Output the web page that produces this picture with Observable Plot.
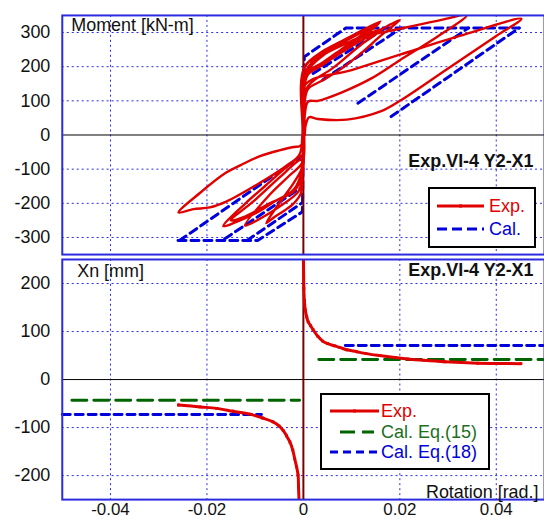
<!DOCTYPE html>
<html><head><meta charset="utf-8">
<script src="https://cdn.jsdelivr.net/npm/d3@7"></script>
<script src="https://cdn.jsdelivr.net/npm/@observablehq/plot@0.6"></script>
<style>
html,body{margin:0;padding:0;background:#fff;overflow:hidden;}
#wrap{position:relative;width:544px;height:517px;overflow:hidden;font-family:"Liberation Sans",Arial,sans-serif;}
.panel{position:absolute;left:0;}
.legend{position:absolute;}
</style></head><body><div id="wrap"></div>
<script>
// ---------- data ----------
const rotTicks = [-0.04, -0.02, 0, 0.02, 0.04];
const momTicks = [-300, -200, -100, 0, 100, 200, 300];
const xnTicks = [-200, -100, 0, 100, 200];

// Experimental moment-rotation hysteresis (rad, kN-m)
const expRot = [0,0.0002,0.0003,
 0.004,0.008,0.012,0.016, 0.012,0.008,0.004,0.001,0.0003,0.0002,-0.0002,
 -0.0004,-0.002,-0.004,-0.006,-0.0077, -0.006,-0.004,-0.002,-0.0005,-0.0002,0.0001,0.0003,
 0.004,0.008,0.012,0.0158, 0.012,0.008,0.004,0.001,0.0003,0.0002,-0.0002,
 -0.003,-0.007,-0.0121, -0.009,-0.005,-0.001,-0.0003,0.0001,0.0003,
 0.004,0.008,0.012,0.0165, 0.012,0.006,0.002,0.0005,0.0002,-0.0002,
 -0.001,-0.004,-0.008,-0.012,-0.0166, -0.014,-0.010,-0.006,-0.002,-0.0004,0.0001,0.0003,
 0.005,0.010,0.015,0.020, 0.016,0.012,0.008,0.004,0.001,0.0003,0.0002,-0.0002,
 -0.0008,-0.002,-0.005,-0.009,-0.013,-0.016,-0.0214,-0.0259, -0.0228,-0.0194,-0.016,-0.009,-0.0035,-0.0008,-0.0002,0.0003,
 0.006,0.012,0.020,0.028,0.0338, 0.028,0.020,0.014,0.008,0.003,0.001,0.0003,0.0002,-0.0002,
 -0.001,-0.005,-0.010,-0.0150, -0.012,-0.007,-0.002,-0.0003,0.0001,0.0003,
 0.010,0.020,0.0324,0.0452, 0.040,0.030,0.020,0.016,0.009,0.003,0.0012,0.0005,0.0003];
const expMom = [0,120,200,
 245,275,305,333, 292,252,212,185,150,0,-70,
 -100,-140,-180,-220,-258, -240,-222,-200,-170,-100,0,180,
 240,270,300,328, 285,245,205,178,150,0,-80,
 -120,-175,-265, -245,-210,-165,-130,0,172,
 232,262,288,311, 265,195,158,131,0,-60,
 -65,-100,-150,-200,-267, -255,-230,-195,-160,-110,0,170,
 215,260,300,337, 290,240,195,160,135,100,0,-25,
 -33,-35,-45,-62,-88,-110,-169,-227, -217,-212,-195,-140,-90,-57,0,200,
 250,285,311,335,350, 290,219,165,125,100,98,60,0,-70,
 -75,-125,-190,-250, -238,-200,-165,-120,0,146,
 190,235,290,340, 290,195,100,69,45,47,52,30,0];

// Calculated moment-rotation (segments)
const calSeg = ["sk","sk","sk","sk","sk","sk","c1","c1","c2","c2","c3","c3","c4","c4","n1","n1","n2","n2","n3","n3"];
const calRot = [-0.026,-0.0095,-0.0002,0.0002,0.0088,0.0448, 0.002,0.017, 0.004,0.0203, 0.0113,0.0342, 0.0182,0.0447, -0.0257,-0.0004, -0.0163,-0.0004, -0.0117,-0.0004];
const calMom = [-309,-309,-225,229,313,313, 180,313, 161,313, 93,313, 54,313, -309,-62, -304,-153, -309,-200];

// Experimental neutral axis depth Xn (mm)
const xnSeg = ["p","p","p","p","p","p","p","p","p","p","p","p","p","p","p","p","p","p","p","p","p","p","p","p","p",
 "n","n","n","n","n","n","n","n","n","n","n","n","n","n","n","n","n"];
const xnRot = [0.00002,0.00005,0.0001,0.0002,0.0004,0.0007,0.001,0.0015,0.002,0.003,0.004,0.005,0.0065,0.0075,0.009,0.011,0.013,0.0158,0.019,0.0216,0.025,0.0293,0.0362,0.040,0.0451,
 -0.0259,-0.0214,-0.018,-0.0146,-0.0111,-0.0085,-0.0063,-0.005,-0.0042,-0.0035,-0.0028,-0.0022,-0.0018,-0.0014,-0.0011,-0.001,-0.0009];
const xnVal = [255,220,190,165,145,130,120,112,104,90,80,75,70,67,62,58,54,50,46,43,40,37,34,33.5,33,
 -53,-57,-60,-66,-72,-80,-88,-97,-106,-117,-130,-147,-165,-182,-199,-225,-255];

// Calculated Xn, Eq.(15) and Eq.(18)
const eq15Seg = ["n","n","p","p"];
const eq15Rot = [-0.048,-0.0008,0.0032,0.05];
const eq15Val = [-43,-43,41.7,41.7];
const eq18Seg = ["n","n","p","p"];
const eq18Rot = [-0.05,-0.0087,0.0087,0.05];
const eq18Val = [-73,-73,71,71];

// ---------- build ----------
const expTable = expRot.map((r,i)=>({rot:r, mom:expMom[i]}));
const calTable = calRot.map((r,i)=>({rot:r, mom:calMom[i], seg:calSeg[i]}));
const xnTable = xnRot.map((r,i)=>({rot:r, xn:xnVal[i], seg:xnSeg[i]}));
const eq15Table = eq15Rot.map((r,i)=>({rot:r, xn:eq15Val[i], seg:eq15Seg[i]}));
const eq18Table = eq18Rot.map((r,i)=>({rot:r, xn:eq18Val[i], seg:eq18Seg[i]}));

const RED = "#e00000", BLUE = "#0000dd", GREEN = "#006400", GRID = "#2a2aee", FRAME = "#2b2be0";
const FONT = "'Liberation Sans', Arial, sans-serif";
const fmt = d => String(d);
const W = 546;
const pstyle = {fontFamily: FONT, fontSize: "18px", color: "#111", background: "transparent", overflow: "visible"};

const topPlot = Plot.plot({
  width: W, height: 257, marginLeft: 62, marginRight: 0, marginTop: 15, marginBottom: 2,
  x: {domain: [-0.05, 0.05], axis: null},
  y: {domain: [-350, 350], axis: null},
  style: pstyle,
  marks: [
    Plot.gridX(rotTicks.filter(d => d !== 0), {stroke: GRID, strokeOpacity: 1, strokeDasharray: "2,3"}),
    Plot.gridY(momTicks.filter(d => d !== 0), {stroke: GRID, strokeOpacity: 1, strokeDasharray: "2,3"}),
    Plot.ruleY([0], {stroke: "#000", strokeWidth: 1}),
    Plot.line(calTable, {x: "rot", y: "mom", z: "seg", stroke: BLUE, strokeWidth: 3, strokeDasharray: "8,5", clip: true}),
    Plot.ruleX([0], {stroke: "#7a0000", strokeWidth: 2}),
    Plot.line(expTable, {x: "rot", y: "mom", stroke: RED, strokeWidth: 2.4, curve: "catmull-rom", clip: true}),
    Plot.axisY(momTicks, {tickSize: 0, tickPadding: 12, tickFormat: fmt, fontSize: 18, label: null}),
    Plot.frame({stroke: FRAME, strokeWidth: 2}),
    Plot.text(["Moment [kN-m]"], {frameAnchor: "top-left", dx: 9, dy: 3, fontSize: 18, fill: "#111"}),
    Plot.text(["Exp.VI-4 Y2-X1"], {frameAnchor: "right", dx: -11, dy: 26, fontSize: 18, fontWeight: "bold", fill: "#111"})
  ]
});

const bottomPlot = Plot.plot({
  width: W, height: 260, marginLeft: 62, marginRight: 0, marginTop: 2, marginBottom: 17,
  x: {domain: [-0.05, 0.05]},
  y: {domain: [-250, 250], axis: null},
  style: pstyle,
  marks: [
    Plot.gridX(rotTicks.filter(d => d !== 0), {stroke: GRID, strokeOpacity: 1, strokeDasharray: "2,3"}),
    Plot.gridY(xnTicks.filter(d => d !== 0), {stroke: GRID, strokeOpacity: 1, strokeDasharray: "2,3"}),
    Plot.ruleY([0], {stroke: "#000", strokeWidth: 1}),
    Plot.line(eq15Table, {x: "rot", y: "xn", z: "seg", stroke: GREEN, strokeWidth: 3, strokeDasharray: "15,7"}),
    Plot.line(eq18Table, {x: "rot", y: "xn", z: "seg", stroke: BLUE, strokeWidth: 3, strokeDasharray: "8,5"}),
    Plot.ruleX([0], {stroke: "#7a0000", strokeWidth: 2}),
    Plot.line(xnTable, {x: "rot", y: "xn", z: "seg", stroke: RED, strokeWidth: 3, curve: "catmull-rom", clip: true}),
    Plot.dot(xnTable, {x: "rot", y: "xn", symbol: "square", r: 1.6, fill: RED, clip: true}),
    Plot.axisY(xnTicks, {tickSize: 0, tickPadding: 12, tickFormat: fmt, fontSize: 18, label: null}),
    Plot.axisX(rotTicks, {tickSize: 0, tickPadding: 3, tickFormat: fmt, fontSize: 17, label: null}),
    Plot.frame({stroke: FRAME, strokeWidth: 2}),
    Plot.text(["Xn [mm]"], {frameAnchor: "top-left", dx: 15, dy: 5, fontSize: 18, fill: "#111"}),
    Plot.text(["Exp.VI-4 Y2-X1"], {frameAnchor: "top-right", dx: -11, dy: 4, fontSize: 18, fontWeight: "bold", fill: "#111"}),
    Plot.text(["Rotation [rad.]"], {frameAnchor: "bottom-right", dx: -6, dy: -2, fontSize: 18, fill: "#111"})
  ]
});

const wrap = document.getElementById("wrap");
topPlot.classList.add("panel"); topPlot.style.top = "0px";
bottomPlot.classList.add("panel"); bottomPlot.style.top = "257px";
wrap.appendChild(topPlot); wrap.appendChild(bottomPlot);

// ---------- legends ----------
function legend(left, topY, w, h, entries) {
  const svg = d3.select(wrap).append("svg").attr("class", "legend")
    .attr("width", w).attr("height", h)
    .style("left", left + "px").style("top", topY + "px");
  svg.append("rect").attr("x", 1).attr("y", 1).attr("width", w - 2).attr("height", h - 2)
    .attr("fill", "#fff").attr("stroke", "#000").attr("stroke-width", 2);
  entries.forEach(e => {
    svg.append("line").attr("x1", e.x1).attr("x2", e.x2).attr("y1", e.y).attr("y2", e.y)
      .attr("stroke", e.line).attr("stroke-width", 3).attr("stroke-dasharray", e.dash || null);
    if (e.marker) svg.append("rect").attr("x", (e.x1 + e.x2) / 2 - 1.5).attr("y", e.y - 1.5)
      .attr("width", 3).attr("height", 3).attr("fill", e.line);
    svg.append("text").attr("x", e.tx).attr("y", e.y).attr("dy", "0.35em")
      .attr("fill", e.color).style("font-family", FONT).style("font-size", "18px").text(e.label);
  });
}
legend(428, 187, 108, 61, [
  {label: "Exp.", color: RED, line: RED, x1: 9, x2: 56, y: 19, tx: 61, marker: true},
  {label: "Cal.", color: BLUE, line: BLUE, x1: 9, x2: 56, y: 42, tx: 61, dash: "10,5"}
]);
legend(320, 393, 170, 77, [
  {label: "Exp.", color: RED, line: RED, x1: 10, x2: 59, y: 18, tx: 61, marker: true},
  {label: "Cal. Eq.(15)", color: "#1d6e1d", line: GREEN, x1: 20, x2: 54, y: 39, tx: 61, dash: "15,7"},
  {label: "Cal. Eq.(18)", color: BLUE, line: BLUE, x1: 10, x2: 57, y: 59, tx: 61, dash: "8,5"}
]);
</script></body></html>
